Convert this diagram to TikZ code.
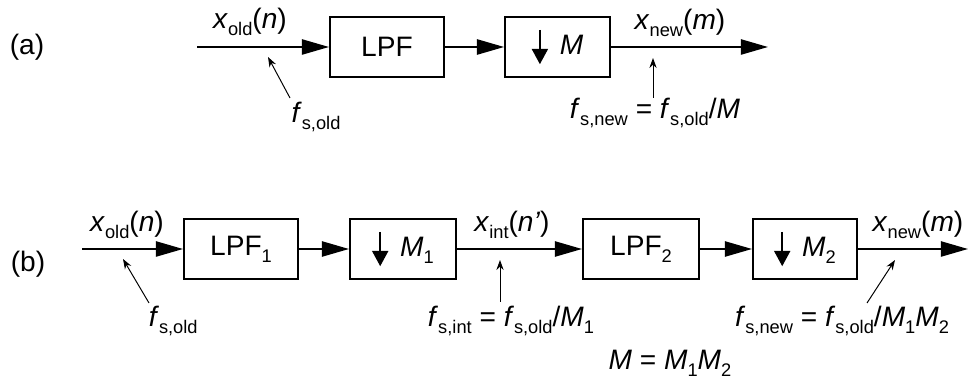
\documentclass[tikz,border=0pt]{standalone}
\usepackage{fontspec}
\setmainfont{Liberation Sans}
\usetikzlibrary{arrows.meta,positioning}
\newcommand{\lowsub}[1]{\raisebox{-0.45ex}{\fontsize{13}{13}\selectfont #1}}
\newcommand{\dnarrow}{\tikz[baseline=0pt]\draw[line width=1.2pt,
  -{Triangle[length=0.38cm,width=0.4cm]}] (0,0.62) -- (0,-0.24);\hspace{0.3cm}}

\begin{document}
\begin{tikzpicture}[
  box/.style={rectangle, draw, line width=1.4pt, minimum width=2.85cm,
    minimum height=1.5cm, font=\fontsize{20}{24}\selectfont},
  lbl/.style={font=\fontsize{20}{24}\selectfont, inner sep=0pt},
  arr/.style={-{Triangle[length=0.68cm,width=0.38cm]}, line width=1.4pt},
  ptr/.style={-{Stealth[length=0.25cm,width=0.18cm]}, line width=0.7pt}
]
\useasboundingbox (0,0) rectangle (24.225,9.675);

% (a) one stage
\node[lbl] (taga) at (0.675,8.5) {(a)};
\coordinate (ina) at (4.925,8.5);
\node[box] (lpfa) at (9.675,8.5) {LPF};
\node[box, minimum width=2.625cm] (dna) at (13.94,8.5) {\dnarrow\textit{M}};
\coordinate (outa) at (19.2,8.5);
\draw[arr] (ina) -- (lpfa);
\draw[arr] (lpfa) -- (dna);
\draw[arr] (dna) -- (outa);

\node[lbl] (xolda) at (6.25,9.125) {\textit{x}\lowsub{old}(\textit{n})};
\node[lbl] (xnewa) at (17.0,9.1) {\textit{x}\lowsub{new}(\textit{m})};
\node[lbl] (fsolda) at (7.9,6.75) {\textit{f}\lowsub{s,old}};
\node[lbl] (fsnewa) at (16.375,6.85)
  {\textit{f}\lowsub{s,new} = \textit{f}\lowsub{s,old}/\textit{M}};
\coordinate (pa1) at (7.25,7.225);
\coordinate (pa2) at (6.7,8.25);
\coordinate (pa3) at (16.325,7.225);
\coordinate (pa4) at (16.325,8.225);
\draw[ptr] (pa1) -- (pa2);
\draw[ptr] (pa3) -- (pa4);

% (b) two stages
\node[lbl] (tagb) at (0.7,3.075) {(b)};
\coordinate (inb) at (2.05,3.45);
\node[box] (lpfb) at (6.025,3.45) {LPF\lowsub{1}};
\node[box, minimum width=2.65cm] (dnb) at (10.075,3.45) {\dnarrow\textit{M}\lowsub{1}};
\node[box, minimum width=2.9cm] (lpfc) at (16.025,3.45) {LPF\lowsub{2}};
\node[box, minimum width=2.6cm] (dnc) at (20.125,3.45) {\dnarrow\textit{M}\lowsub{2}};
\coordinate (outb) at (24.2,3.45);
\draw[arr] (inb) -- (lpfb);
\draw[arr] (lpfb) -- (dnb);
\draw[arr] (dnb) -- (lpfc);
\draw[arr] (lpfc) -- (dnc);
\draw[arr] (dnc) -- (outb);

\node[lbl] (xoldb) at (3.175,4.05) {\textit{x}\lowsub{old}(\textit{n})};
\node[lbl] (xintb) at (12.8,4.05) {\textit{x}\lowsub{int}(\textit{n'})};
\node[lbl] (xnewb) at (22.95,4.05) {\textit{x}\lowsub{new}(\textit{m})};
\node[lbl] (fsoldb) at (4.33,1.65) {\textit{f}\lowsub{s,old}};
\node[lbl] (fsintb) at (12.775,1.65)
  {\textit{f}\lowsub{s,int} = \textit{f}\lowsub{s,old}/\textit{M}\lowsub{1}};
\node[lbl] (fsnewb) at (21.05,1.65)
  {\textit{f}\lowsub{s,new} = \textit{f}\lowsub{s,old}/\textit{M}\lowsub{1}\textit{M}\lowsub{2}};
\node[lbl] (mprod) at (16.75,0.6)
  {\textit{M} = \textit{M}\lowsub{1}\textit{M}\lowsub{2}};
\coordinate (pb1) at (3.725,2.1);
\coordinate (pb2) at (3.075,3.2);
\coordinate (pb3) at (12.5,2.125);
\coordinate (pb4) at (12.5,3.175);
\coordinate (pb5) at (21.675,2.1);
\coordinate (pb6) at (22.375,3.175);
\draw[ptr] (pb1) -- (pb2);
\draw[ptr] (pb3) -- (pb4);
\draw[ptr] (pb5) -- (pb6);
\end{tikzpicture}
\end{document}
